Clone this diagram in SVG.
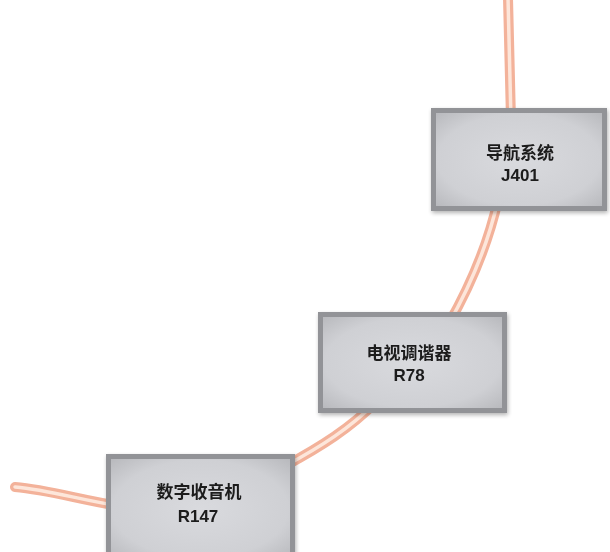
<svg xmlns="http://www.w3.org/2000/svg" width="610" height="552" viewBox="0 0 610 552">
  <defs>
    <radialGradient id="face" cx="50%" cy="50%" r="70%">
      <stop offset="0" stop-color="#d9dade"/>
      <stop offset="0.7" stop-color="#cfd0d4"/>
      <stop offset="1" stop-color="#b9babe"/>
    </radialGradient>
    <filter id="sh" x="-10%" y="-10%" width="120%" height="130%">
      <feGaussianBlur in="SourceAlpha" stdDeviation="2"/>
      <feOffset dx="1" dy="2"/>
      <feComponentTransfer><feFuncA type="linear" slope="0.3"/></feComponentTransfer>
      <feMerge><feMergeNode/><feMergeNode in="SourceGraphic"/></feMerge>
    </filter>
  </defs>
  <style>
    .frame { fill: #929397; }
    .inner { fill: url(#face); }
    .cab-o { fill: none; stroke: #f3b29a; stroke-width: 10; stroke-linecap: round; }
    .cab-i { fill: none; stroke: #fde6da; stroke-width: 3.5; stroke-linecap: round; }
    .t { font-family: "Liberation Sans", "Noto Sans CJK SC", sans-serif; font-weight: bold; font-size: 17px; fill: #1a1a1a; text-anchor: middle; }
  </style>
  <rect width="610" height="552" fill="#ffffff"/>
  <g id="connectors">
    <path class="cab-o" d="M508,-2 C509,40 510,80 511,120"/>
    <path class="cab-i" d="M508,-2 C509,40 510,80 511,120"/>
    <path class="cab-o" d="M498,200 Q484,262 448,325"/>
    <path class="cab-i" d="M498,200 Q484,262 448,325"/>
    <path class="cab-o" d="M375,403 C350,428 322,446 285,466"/>
    <path class="cab-i" d="M375,403 C350,428 322,446 285,466"/>
    <path class="cab-o" d="M120,506 C80,500 50,490 15,487"/>
    <path class="cab-i" d="M120,506 C80,500 50,490 15,487"/>
  </g>
  <g id="nav" filter="url(#sh)">
    <rect class="frame" x="431" y="108" width="176" height="103"/>
    <rect class="inner" x="436" y="113" width="166" height="93"/>
    <text class="t" x="520" y="159">导航系统</text>
    <text class="t" x="520" y="181">J401</text>
  </g>
  <g id="tv" filter="url(#sh)">
    <rect class="frame" x="318" y="312" width="189" height="101"/>
    <rect class="inner" x="323" y="317" width="179" height="91"/>
    <text class="t" x="409" y="359">电视调谐器</text>
    <text class="t" x="409" y="381">R78</text>
  </g>
  <g id="radio" filter="url(#sh)">
    <rect class="frame" x="106" y="454" width="189" height="110"/>
    <rect class="inner" x="111" y="459" width="179" height="100"/>
    <text class="t" x="199" y="498">数字收音机</text>
    <text class="t" x="198" y="522">R147</text>
  </g>
</svg>
